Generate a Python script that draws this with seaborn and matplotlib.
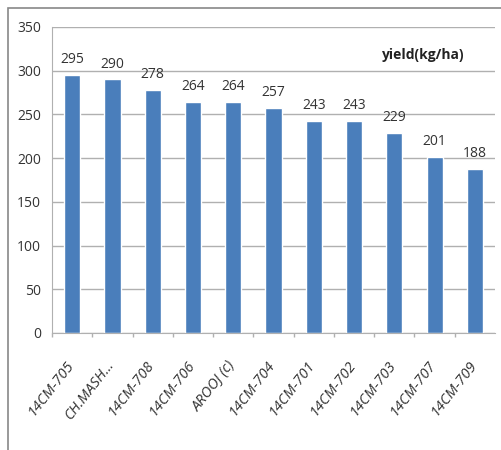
import matplotlib
matplotlib.use("Agg")
import matplotlib.pyplot as plt
import matplotlib.patches as mpatches
import matplotlib.transforms as mtransforms
import seaborn as sns
import pandas as pd
import numpy as np

# data
lines = ["14CM-705", "CH.MASH...", "14CM-708", "14CM-706", "AROOJ (c)", "14CM-704",
         "14CM-701", "14CM-702", "14CM-703", "14CM-707", "14CM-709"]
yield_kg_ha = [295, 290, 278, 264, 264, 257, 243, 243, 229, 201, 188]

df = pd.DataFrame({"line": lines, "yield": yield_kg_ha})

sns.set_style("white")
plt.rcParams["font.family"] = ["Open Sans", "DejaVu Sans"]

fig = plt.figure(figsize=(5.01, 4.5), dpi=100)
ax = fig.add_axes([0.104, 0.26, 0.884, 0.68])

sns.barplot(data=df, x="line", y="yield", color="#4a7ebb", width=0.4,
            saturation=1, ax=ax)

ax.set_ylim(0, 350)
ax.set_yticks(range(0, 351, 50))
ax.yaxis.grid(True, color="#b0b0b0", linewidth=1)
ax.set_axisbelow(True)
ax.set_xlabel("")
ax.set_ylabel("")
for s in ["top", "right"]:
    ax.spines[s].set_visible(False)
ax.spines["left"].set_color("#b0b0b0")
ax.spines["bottom"].set_color("#b0b0b0")
ax.tick_params(axis="y", labelsize=10, colors="#333333", length=0, pad=8)
ax.tick_params(axis="x", labelsize=10.5, colors="#333333", length=0, pad=20)
ax.set_xticks(range(len(lines)))
ax.set_xticklabels(lines, rotation=52, ha="right", va="bottom",
                   rotation_mode="anchor", style="italic")
# nudge rotated labels so their upper end sits under the bar
shift = mtransforms.ScaledTranslation(5 / 100, -6 / 100, fig.dpi_scale_trans)
for lab in ax.get_xticklabels():
    lab.set_transform(lab.get_transform() + shift)
# small separators between categories on the category axis
ax.set_xticks(np.arange(len(lines)) - 0.5, minor=True)
ax.tick_params(axis="x", which="minor", bottom=True, length=3, width=1,
               color="#b0b0b0", direction="out")

for i, v in enumerate(yield_kg_ha):
    ax.text(i, v + 9, str(v), ha="center", va="bottom", fontsize=10, color="#333333")

ax.text(0.932, 0.908, "yield(kg/ha)", transform=ax.transAxes, ha="right",
        va="center", fontsize=10, fontweight="bold", color="#222222")

# outer chart border
fig.patches.append(mpatches.Rectangle((0.016, -0.01), 1.0, 0.993,
                                      transform=fig.transFigure, fill=False,
                                      edgecolor="#888888", linewidth=1.2))

fig.savefig("out.png", dpi=100)
